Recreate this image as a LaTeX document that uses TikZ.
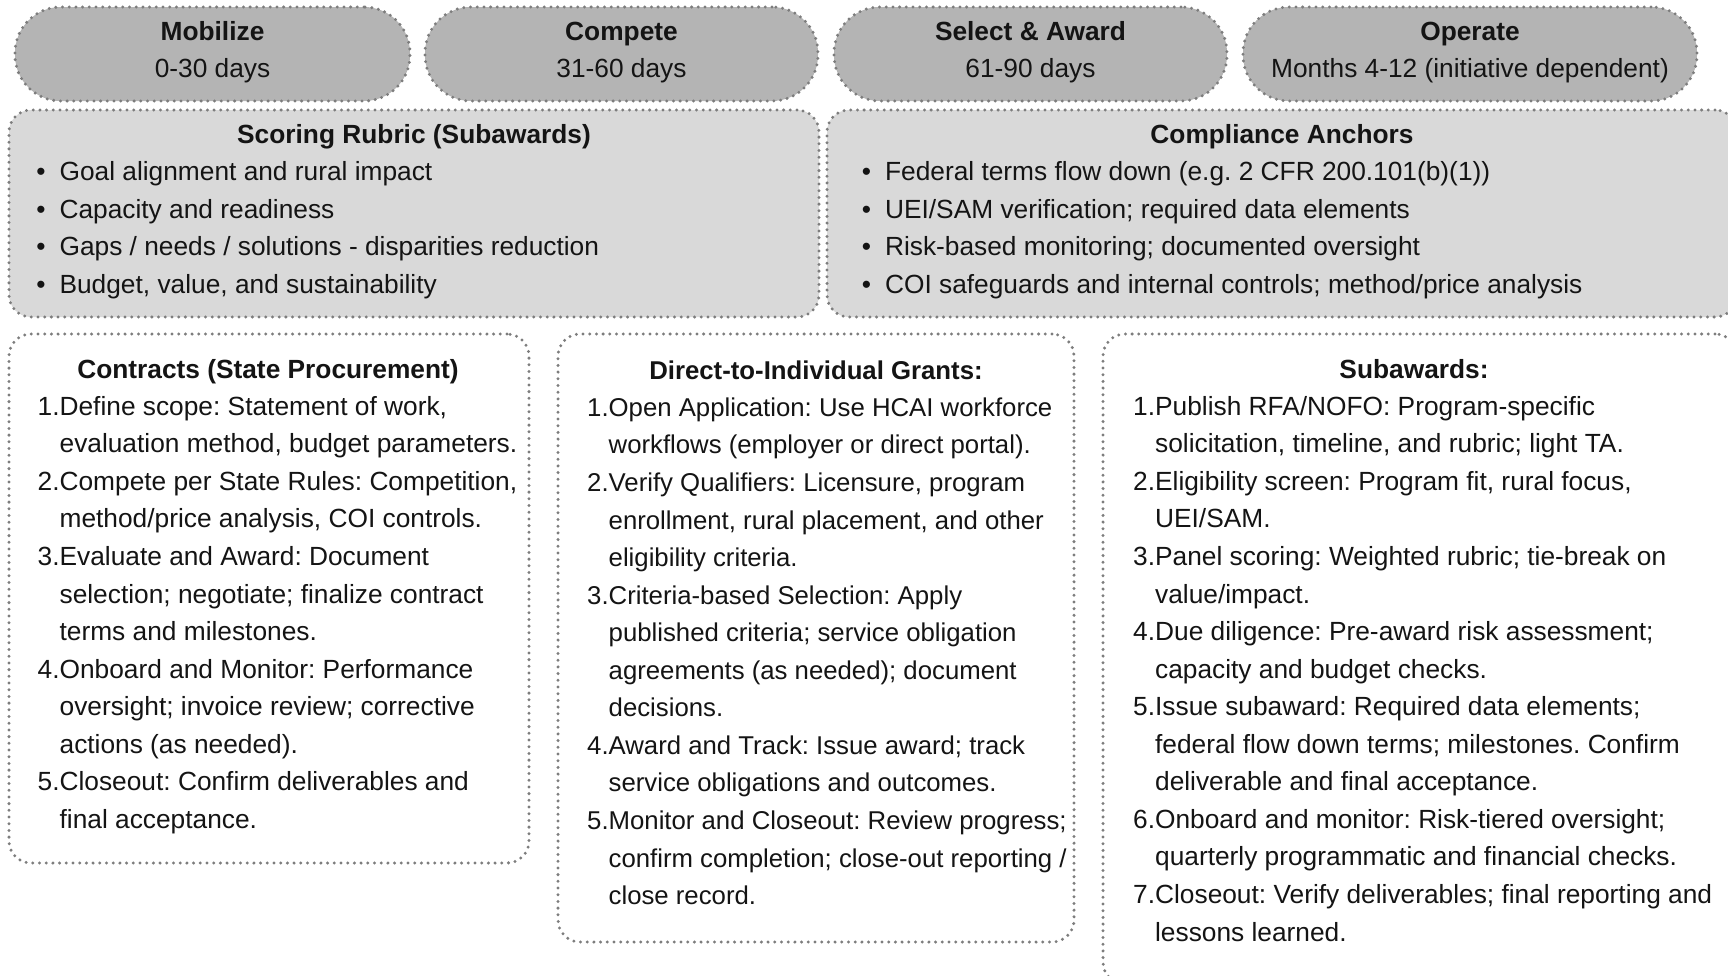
\documentclass[tikz,border=0pt]{standalone}
\usepackage{fontspec}
\setmainfont{Liberation Sans}
\definecolor{dotgray}{RGB}{125,125,125}
\definecolor{pillgray}{RGB}{180,180,180}
\definecolor{bandgray}{RGB}{217,217,217}
\definecolor{ink}{RGB}{20,20,20}
\begin{document}
\frenchspacing
\begin{tikzpicture}[x=1pt,y=-1pt,
  every node/.style={inner sep=0pt, text=ink},
  dotbox/.style={draw=dotgray, line width=3.3pt, dash pattern=on 0pt off 6.7pt, line cap=round},
  pill/.style={dotbox, fill=pillgray, rounded corners=46pt},
  band/.style={dotbox, fill=bandgray, rounded corners=22pt},
  card/.style={dotbox, fill=white, rounded corners=22pt},
  body/.style={font=\fontsize{26.3}{37.55}\selectfont, anchor=base west, align=left},
  ttl/.style={font=\bfseries\fontsize{26.3}{37.55}\selectfont, anchor=base},
  sub/.style={font=\fontsize{26.3}{37.55}\selectfont, anchor=base},
  narrow/.style={font=\fontsize{25.75}{37.55}\selectfont},
  narrowb/.style={font=\bfseries\fontsize{25.75}{37.55}\selectfont},
]
\path[use as bounding box] (0,0) rectangle (1728,975);
\clip (0,0) rectangle (1728,975);

% ---- phase pills ----
\node[pill, minimum width=395pt, minimum height=94pt] (mob) at (212.5,54) {};
\node[pill, minimum width=393pt, minimum height=94pt] (com) at (621.5,54) {};
\node[pill, minimum width=393pt, minimum height=94pt] (sel) at (1030.5,54) {};
\node[pill, minimum width=454pt, minimum height=94pt] (ope) at (1470,54) {};
\node[ttl] (mobt) at (212.5,40) {Mobilize};
\node[sub] (mobd) at (212.5,77) {0-30 days};
\node[ttl] (comt) at (621.5,40) {Compete};
\node[sub] (comd) at (621.5,77) {31-60 days};
\node[ttl] (selt) at (1030.5,40) {Select \& Award};
\node[sub] (seld) at (1030.5,77) {61-90 days};
\node[ttl] (opet) at (1470,40) {Operate};
\node[sub] (oped) at (1470,77) {Months 4-12 (initiative dependent)};

% ---- rubric / compliance bands ----
\node[band, minimum width=810pt, minimum height=207pt] (rub) at (414,213.5) {};
\node[band, minimum width=910pt, minimum height=207pt] (cmp) at (1282,213.5) {};
\node[ttl] (rubt) at (414,143) {Scoring Rubric (Subawards)};
\node[body] (rubl) at (22,180.6) {\begin{tabular}[t]{@{}l@{}l@{}}
\makebox[37.4pt]{\textbullet} & Goal alignment and rural impact\\
\makebox[37.4pt]{\textbullet} & Capacity and readiness\\
\makebox[37.4pt]{\textbullet} & Gaps / needs / solutions - disparities reduction\\
\makebox[37.4pt]{\textbullet} & Budget, value, and sustainability
\end{tabular}};
\node[ttl] (cmpt) at (1282,143) {Compliance Anchors};
\node[body] (cmpl) at (847.5,180.6) {\begin{tabular}[t]{@{}l@{}l@{}}
\makebox[37.4pt]{\textbullet} & Federal terms flow down (e.g. 2 CFR 200.101(b)(1))\\
\makebox[37.4pt]{\textbullet} & UEI/SAM verification; required data elements\\
\makebox[37.4pt]{\textbullet} & Risk-based monitoring; documented oversight\\
\makebox[37.4pt]{\textbullet} & COI safeguards and internal controls; method/price analysis
\end{tabular}};

% ---- pathway cards ----
\node[card, minimum width=520pt, minimum height=529pt] (con) at (269,598.5) {};
\node[card, minimum width=516pt, minimum height=608pt] (dir) at (816,638) {};
\node[card, minimum width=634pt, minimum height=650pt] (sba) at (1420,659) {};

\node[ttl] (cont) at (268,378) {Contracts (State Procurement)};
\node[body] (conl) at (37.5,415.3) {\begin{tabular}[t]{@{}l@{}l@{}}
1. & Define scope: Statement of work,\\
   & evaluation method, budget parameters.\\
2. & Compete per State Rules: Competition,\\
   & method/price analysis, COI controls.\\
3. & Evaluate and Award: Document\\
   & selection; negotiate; finalize contract\\
   & terms and milestones.\\
4. & Onboard and Monitor: Performance\\
   & oversight; invoice review; corrective\\
   & actions (as needed).\\
5. & Closeout: Confirm deliverables and\\
   & final acceptance.
\end{tabular}};

\node[ttl, narrowb] (dirt) at (816,379) {Direct-to-Individual Grants:};
\node[body, narrow] (dirl) at (587,416.4) {\begin{tabular}[t]{@{}l@{}l@{}}
1. & Open Application: Use HCAI workforce\\
   & workflows (employer or direct portal).\\
2. & Verify Qualifiers: Licensure, program\\
   & enrollment, rural placement, and other\\
   & eligibility criteria.\\
3. & Criteria-based Selection: Apply\\
   & published criteria; service obligation\\
   & agreements (as needed); document\\
   & decisions.\\
4. & Award and Track: Issue award; track\\
   & service obligations and outcomes.\\
5. & Monitor and Closeout: Review progress;\\
   & confirm completion; close-out reporting /\\
   & close record.
\end{tabular}};

\node[ttl] (sbat) at (1414,378) {Subawards:};
\node[body] (sbal) at (1133,415.3) {\begin{tabular}[t]{@{}l@{}l@{}}
1. & Publish RFA/NOFO: Program-specific\\
   & solicitation, timeline, and rubric; light TA.\\
2. & Eligibility screen: Program fit, rural focus,\\
   & UEI/SAM.\\
3. & Panel scoring: Weighted rubric; tie-break on\\
   & value/impact.\\
4. & Due diligence: Pre-award risk assessment;\\
   & capacity and budget checks.\\
5. & Issue subaward: Required data elements;\\
   & federal flow down terms; milestones. Confirm\\
   & deliverable and final acceptance.\\
6. & Onboard and monitor: Risk-tiered oversight;\\
   & quarterly programmatic and financial checks.\\
7. & Closeout: Verify deliverables; final reporting and\\
   & lessons learned.
\end{tabular}};
\end{tikzpicture}
\end{document}
